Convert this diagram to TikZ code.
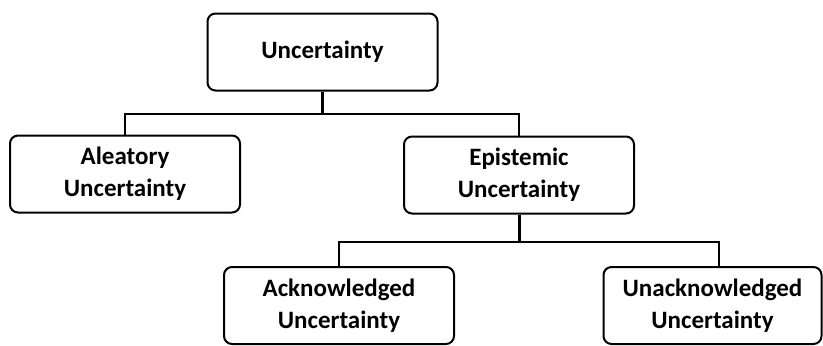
\documentclass[tikz,border=0pt]{standalone}
\usepackage{fontspec}
\setmainfont{Carlito}
\usetikzlibrary{calc}

\begin{document}
\begin{tikzpicture}[x=0.5pt, y=-0.5pt,
    box/.style={draw=borderColour, fill=white, line width=1pt, rounded corners=4pt,
        minimum width=115pt, minimum height=38.5pt, align=center, inner sep=2pt,
        font=\fontsize{12.5}{16}\selectfont\bfseries},
    link/.style={draw=borderColour, line width=1pt},
    stub/.style={draw=borderColour, line width=1.5pt}]
    % Define colours
    \definecolor{borderColour}{HTML}{000000}

    % Fix picture size
    \useasboundingbox (0,0) rectangle (823,345);

    % Draw the boxes
    \node[box] (root) at (322.5,52) {Uncertainty};
    \node[box] (alea) at (125,174) {Aleatory\\Uncertainty};
    \node[box] (epis) at (519,175) {Epistemic\\Uncertainty};
    \node[box] (ackn) at (339,305.5) {Acknowledged\\Uncertainty};
    \node[box, minimum width=109pt] (unack) at (712.5,305.5) {Unacknowledged\\Uncertainty};

    % Bus points of the tree
    \coordinate (busTop) at (322.5,114);
    \coordinate (busLow) at (519,242);

    % Draw the connectors
    \draw[stub] (root.south) -- (busTop);
    \draw[link] (alea.north) |- (busTop) -| (epis.north);
    \draw[stub] (epis.south) -- (busLow);
    \draw[link] (ackn.north) |- (busLow) -| ($(unack.north)+(6.5,0)$);

\end{tikzpicture}
\end{document}
